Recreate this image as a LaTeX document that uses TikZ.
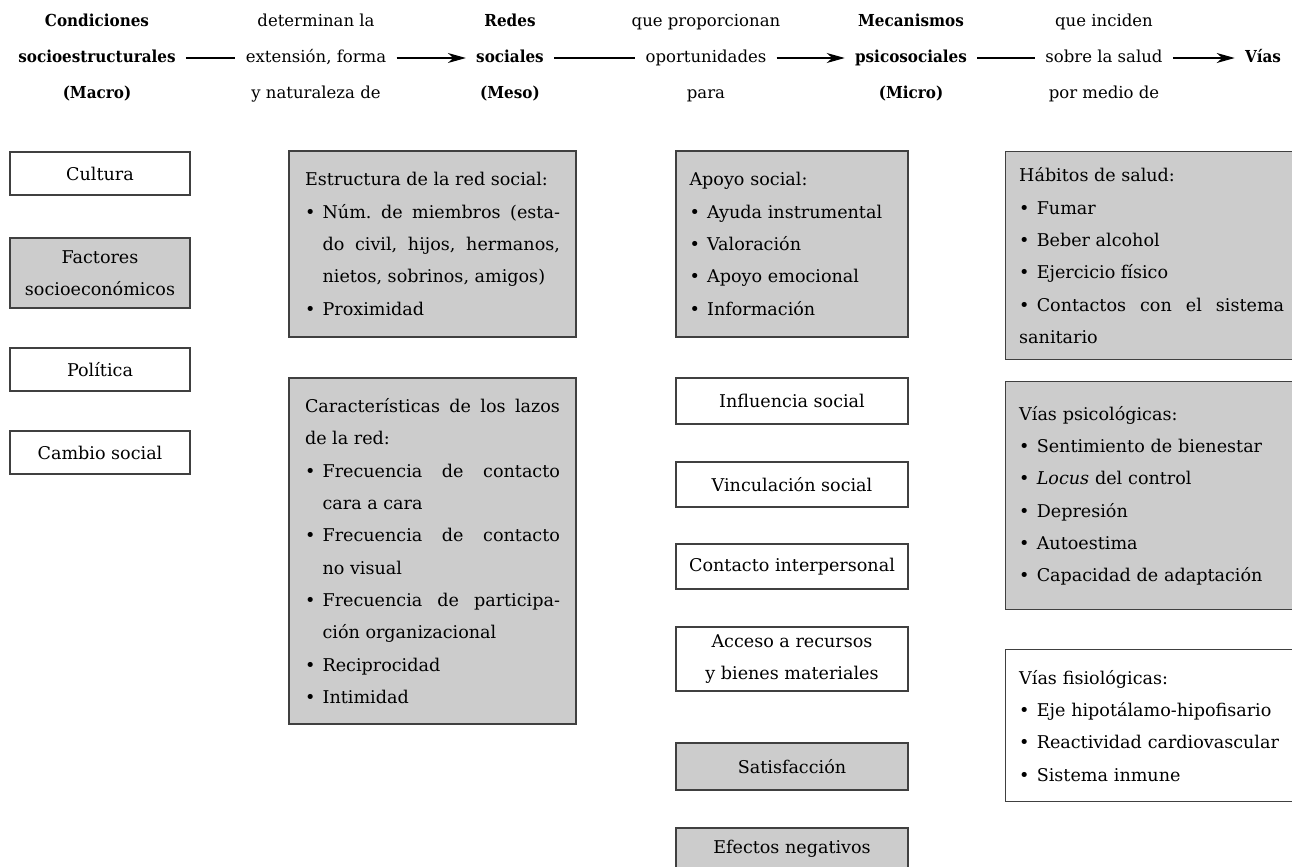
\documentclass[tikz,border=0pt]{standalone}
\usepackage{fontspec}
\setmainfont{DejaVu Serif}[BoldFeatures={FakeStretch=0.92}]
\usetikzlibrary{arrows.meta,positioning}
\frenchspacing

\newcommand{\hdfont}{\fontsize{9.4}{11}\selectfont}
\newcommand{\bxfont}{\fontsize{10}{18.4}\selectfont}
\newcommand{\bitem}{\par\noindent\hangindent=1em\hangafter=1\makebox[1em][l]{\textbullet}}

\tikzset{
  hd/.style={inner xsep=0.2cm, inner ysep=0pt, text height=2.5mm, text depth=0.8mm, font=\hdfont},
  hb/.style={hd, font=\hdfont\bfseries},
  con/.style={line width=0.6pt},
  arr/.style={con, -{Stealth[length=3.6mm,width=2mm,inset=1.1mm]}},
  box/.style={draw=black!75, line width=0.8pt, inner sep=0pt, font=\bxfont, align=center},
  gbox/.style={box, fill=black!20},
}

\begin{document}
\begin{tikzpicture}[x=0.02cm, y=-0.02cm]
    \clip (0,0) rectangle (1292,866);
    % header
    \node[hb] (m1) at (97,58) {socioestructurales};
    \node[hb, above=3.7mm of m1] (t1) {Condiciones};
    \node[hb, below=3.8mm of m1] (b1) {(Macro)};
    \node[hd] (m2) at (316,58) {extensión, forma};
    \node[hd, above=3.7mm of m2] (t2) {determinan la};
    \node[hd, below=3.8mm of m2] (b2) {y naturaleza de};
    \node[hb] (m3) at (510,58) {sociales};
    \node[hb, above=3.7mm of m3] (t3) {Redes};
    \node[hb, below=3.8mm of m3] (b3) {(Meso)};
    \node[hd] (m4) at (706,58) {oportunidades};
    \node[hd, above=3.7mm of m4] (t4) {que proporcionan};
    \node[hd, below=3.8mm of m4] (b4) {para};
    \node[hb] (m5) at (911,58) {psicosociales};
    \node[hb, above=3.7mm of m5] (t5) {Mecanismos};
    \node[hb, below=3.8mm of m5] (b5) {(Micro)};
    \node[hd] (m6) at (1104,58) {sobre la salud};
    \node[hd, above=3.7mm of m6] (t6) {que inciden};
    \node[hd, below=3.8mm of m6] (b6) {por medio de};
    \node[hb] (m7) at (1263,58) {Vías};
    \draw[con] (m1.east) -- (m2.west);
    \draw[arr] (m2.east) -- (m3.west);
    \draw[con] (m3.east) -- (m4.west);
    \draw[arr] (m4.east) -- (m5.west);
    \draw[con] (m5.east) -- (m6.west);
    \draw[arr] (m6.east) -- (m7.west);

    % macro
    \node[box, minimum width=3.6cm, minimum height=0.86cm] (cult) at (100,173.5) {Cultura};
    \node[gbox, minimum width=3.6cm, minimum height=1.4cm] (fact) at (100,273) {Factores\\socioeconómicos};
    \node[box, minimum width=3.6cm, minimum height=0.86cm] (poli) at (100,369.5) {Política};
    \node[box, minimum width=3.6cm, minimum height=0.86cm] (camb) at (100,452.5) {Cambio social};

    % meso
    \node[gbox, minimum width=5.74cm, minimum height=3.72cm, text width=5.1cm, align=justify] (estr) at (432.5,244)
        {Estructura de la red social:
         \bitem Núm. de miembros (esta-\linebreak do civil, hijos, hermanos,\linebreak nietos, sobrinos, amigos)
         \bitem Proximidad};
    \node[gbox, minimum width=5.74cm, minimum height=6.92cm, text width=5.1cm, align=justify] (lazo) at (432.5,551)
        {Características de los lazos\linebreak de la red:
         \bitem Frecuencia de contacto\linebreak cara a cara
         \bitem Frecuencia de contacto\linebreak no visual
         \bitem Frecuencia de participa-\linebreak ción organizacional
         \bitem Reciprocidad
         \bitem Intimidad};

    % micro
    \node[gbox, minimum width=4.64cm, minimum height=3.72cm, text width=4.1cm, align=left] (apoy) at (792,244)
        {Apoyo social:
         \bitem Ayuda instrumental
         \bitem Valoración
         \bitem Apoyo emocional
         \bitem Información};
    \node[box, minimum width=4.64cm, minimum height=0.92cm] (infl) at (792,401) {Influencia social};
    \node[box, minimum width=4.64cm, minimum height=0.9cm] (vinc) at (792,484.5) {Vinculación social};
    \node[box, minimum width=4.64cm, minimum height=0.9cm] (cont) at (792,566.5) {Contacto interpersonal};
    \node[box, minimum width=4.64cm, minimum height=1.28cm] (acce) at (792,659) {Acceso a recursos\\y bienes materiales};
    \node[gbox, minimum width=4.64cm, minimum height=0.94cm] (sati) at (792,766.5) {Satisfacción};
    \node[gbox, minimum width=4.64cm, minimum height=0.84cm] (efec) at (792,849) {Efectos negativos};

    % vias
    \node[gbox, anchor=north west, minimum width=5.84cm, minimum height=4.16cm, text width=5.3cm, align=justify] (habi) at (1005,151)
        {Hábitos de salud:
         \bitem Fumar
         \bitem Beber alcohol
         \bitem Ejercicio físico
         \bitem Contactos con el sistema\linebreak sanitario};
    \node[gbox, anchor=north west, minimum width=5.84cm, minimum height=4.56cm, text width=5.3cm, align=left] (psic) at (1005,381)
        {Vías psicológicas:
         \bitem Sentimiento de bienestar
         \bitem \textit{Locus} del control
         \bitem Depresión
         \bitem Autoestima
         \bitem Capacidad de adaptación};
    \node[box, anchor=north west, minimum width=5.84cm, minimum height=3.04cm, text width=5.3cm, align=left] (fisi) at (1005,649)
        {Vías fisiológicas:
         \bitem \mbox{Eje hipotálamo-hipofisario}
         \bitem Reactividad cardiovascular
         \bitem Sistema inmune};
\end{tikzpicture}
\end{document}
